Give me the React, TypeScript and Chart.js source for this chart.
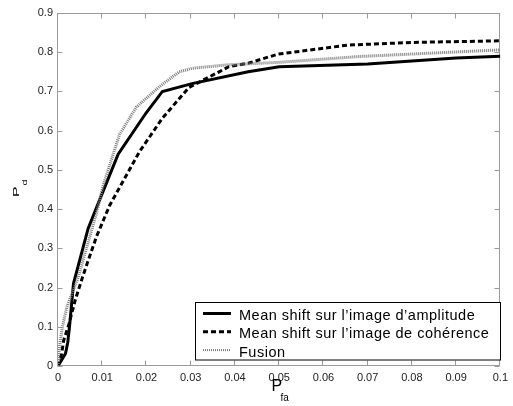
import React, { useEffect, useRef } from "react";
import { Chart, registerables } from "chart.js";

Chart.register(...registerables);

// ---- data ----
const xTicks = [0, 0.01, 0.02, 0.03, 0.04, 0.05, 0.06, 0.07, 0.08, 0.09, 0.1];
const yTicks = [0, 0.1, 0.2, 0.3, 0.4, 0.5, 0.6, 0.7, 0.8, 0.9];

const seriesLabels = [
  "Mean shift sur l\u2019image d\u2019amplitude",
  "Mean shift sur l\u2019image de coh\u00e9rence",
  "Fusion",
];

const amplitudeX = [0, 0.0008, 0.0017, 0.0022, 0.0026, 0.0035, 0.0068, 0.0095, 0.0136, 0.0199, 0.0236, 0.0303, 0.043, 0.05, 0.07, 0.09, 0.1];
const amplitudeY = [0, 0.015, 0.032, 0.06, 0.1, 0.21, 0.35, 0.426, 0.54, 0.645, 0.7, 0.72, 0.75, 0.763, 0.77, 0.785, 0.79];

const coherenceX = [0, 0.0008, 0.0013, 0.0024, 0.0039, 0.0057, 0.0087, 0.0117, 0.0184, 0.0236, 0.0296, 0.0386, 0.043, 0.0497, 0.0654, 0.08, 0.1];
const coherenceY = [0, 0.03, 0.066, 0.104, 0.168, 0.232, 0.33, 0.41, 0.546, 0.632, 0.71, 0.763, 0.772, 0.795, 0.818, 0.825, 0.829];

const fusionX = [0, 0.0002, 0.0006, 0.001, 0.002, 0.0046, 0.0087, 0.0102, 0.0139, 0.0177, 0.0229, 0.0274, 0.0303, 0.0385, 0.0497, 0.068, 0.1];
const fusionY = [0, 0.032, 0.07, 0.1, 0.15, 0.227, 0.39, 0.46, 0.59, 0.66, 0.712, 0.75, 0.759, 0.768, 0.774, 0.789, 0.806];

const toPoints = (xs: number[], ys: number[]) => xs.map((x, i) => ({ x, y: ys[i] }));

const FONT = "'Liberation Sans', Arial, Helvetica, sans-serif";

const framePlugin = {
  id: "frame",
  beforeDatasetsDraw(chart: any) {
    const { ctx, chartArea: a, scales } = chart;
    const x = scales.x;
    const y = scales.y;
    ctx.save();
    ctx.strokeStyle = "#9a9a9a";
    ctx.lineWidth = 1;
    const L = Math.round(a.left) - 0.5;
    const R = Math.round(a.right) - 0.5;
    const T = Math.round(a.top) + 0.5;
    const B = Math.round(a.bottom) - 0.5;
    ctx.strokeRect(L, T, R - L, B - T);
    const tl = 5;
    ctx.beginPath();
    xTicks.forEach((v) => {
      const px = Math.round(x.getPixelForValue(v)) - 0.5;
      ctx.moveTo(px, B);
      ctx.lineTo(px, B - tl);
      ctx.moveTo(px, T);
      ctx.lineTo(px, T + tl);
    });
    yTicks.forEach((v) => {
      const py = Math.round(y.getPixelForValue(v)) + 0.5;
      ctx.moveTo(L, py);
      ctx.lineTo(L + tl, py);
      ctx.moveTo(R, py);
      ctx.lineTo(R - tl, py);
    });
    ctx.stroke();
    ctx.restore();
  },
  afterDraw(chart: any) {
    const { ctx } = chart;
    ctx.save();
    // legend box
    const bx = 195.5, by = 302.5, bw = 305, bh = 57.5;
    ctx.fillStyle = "#ffffff";
    ctx.fillRect(bx, by, bw, bh);
    ctx.strokeStyle = "#000000";
    ctx.lineWidth = 1;
    ctx.strokeRect(bx, by, bw, bh);
    const ds = chart.data.datasets;
    const rows = [320, 338.3, 356.6];
    ctx.font = `14.5px ${FONT}`;
    (ctx as any).letterSpacing = "0.5px";
    ctx.textBaseline = "alphabetic";
    ctx.textAlign = "left";
    ds.forEach((d: any, i: number) => {
      const ly = rows[i] - 6.5;
      ctx.save();
      ctx.strokeStyle = d.borderColor;
      ctx.lineWidth = i === 2 ? 2 : d.borderWidth;
      ctx.setLineDash(d.borderDash || []);
      ctx.beginPath();
      ctx.moveTo(203, ly);
      ctx.lineTo(231, ly);
      ctx.stroke();
      ctx.restore();
      ctx.fillStyle = "#000000";
      ctx.fillText(d.label, 239, rows[i]);
    });
    (ctx as any).letterSpacing = "0px";
    // x title
    ctx.fillStyle = "#000000";
    ctx.font = `16px ${FONT}`;
    ctx.fillText("P", 271.5, 391);
    ctx.font = `10px ${FONT}`;
    ctx.fillText("fa", 280.5, 400.5);
    // y title (rotated, compressed like the original)
    ctx.save();
    ctx.translate(19, 197);
    ctx.rotate(-Math.PI / 2);
    ctx.scale(1, 0.6);
    ctx.font = `16px ${FONT}`;
    ctx.fillText("P", 0, 0);
    ctx.font = `11px ${FONT}`;
    ctx.fillText("d", 11.5, 13.5);
    ctx.restore();
    ctx.restore();
  },
};

export default function App() {
  const ref = useRef<HTMLCanvasElement | null>(null);
  useEffect(() => {
    if (!ref.current) return;
    const chart = new Chart(ref.current, {
      type: "line",
      data: {
        datasets: [
          {
            label: seriesLabels[0],
            data: toPoints(amplitudeX, amplitudeY),
            borderColor: "#000000",
            borderWidth: 3,
            pointRadius: 0,
            tension: 0,
            order: 3,
          },
          {
            label: seriesLabels[1],
            data: toPoints(coherenceX, coherenceY),
            borderColor: "#000000",
            borderWidth: 3,
            borderDash: [5, 3],
            pointRadius: 0,
            tension: 0,
            order: 2,
          },
          {
            label: seriesLabels[2],
            data: toPoints(fusionX, fusionY),
            borderColor: "#7a7a7a",
            borderWidth: 3,
            borderDash: [1, 1],
            pointRadius: 0,
            tension: 0,
            order: 1,
          },
        ],
      },
      options: {
        responsive: false,
        animation: false,
        devicePixelRatio: 1,
        layout: { padding: { left: 0, right: 8, top: 13, bottom: 0 } },
        plugins: { legend: { display: false }, tooltip: { enabled: false } },
        scales: {
          x: {
            type: "linear",
            min: 0,
            max: 0.1,
            border: { display: false },
            grid: { display: false, drawTicks: false },
            afterBuildTicks: (s: any) => {
              s.ticks = xTicks.map((v) => ({ value: v }));
            },
            afterFit: (s: any) => {
              s.height = 40;
            },
            ticks: {
              autoSkip: false,
              maxRotation: 0,
              padding: 5,
              color: "#222222",
              font: { family: FONT, size: 11 },
              callback: (v: any) => String(Number(Number(v).toFixed(2))),
            },
          },
          y: {
            type: "linear",
            min: 0,
            max: 0.9,
            border: { display: false },
            grid: { display: false, drawTicks: false },
            afterBuildTicks: (s: any) => {
              s.ticks = yTicks.map((v) => ({ value: v }));
            },
            afterFit: (s: any) => {
              s.width = 58;
            },
            ticks: {
              autoSkip: false,
              padding: 5,
              color: "#222222",
              font: { family: FONT, size: 11 },
              callback: (v: any) => String(Number(Number(v).toFixed(2))),
            },
          },
        },
      },
      plugins: [framePlugin],
    } as any);
    return () => chart.destroy();
  }, []);
  return (
    <div style={{ position: "absolute", left: 0, top: 0, width: 513, height: 406, background: "#fff" }}>
      <canvas ref={ref} width={513} height={406} />
    </div>
  );
}
